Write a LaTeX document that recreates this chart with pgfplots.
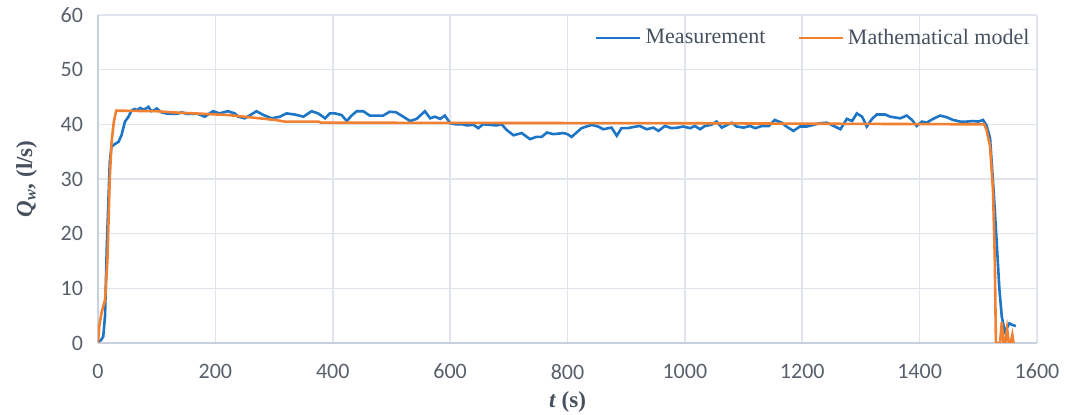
\documentclass[border=0pt]{standalone}
\usepackage{fontspec}
\setmainfont{Liberation Serif}
\newfontfamily\calibri{Carlito}
\usepackage{pgfplots}
\pgfplotsset{compat=1.18}

\definecolor{meas}{RGB}{28,117,198}
\definecolor{model}{RGB}{240,128,50}
\definecolor{gridc}{RGB}{224,228,236}
\definecolor{axisc}{RGB}{200,208,222}
\definecolor{tickc}{RGB}{89,96,108}
\definecolor{legc}{RGB}{70,80,95}

\begin{document}
\begin{tikzpicture}
\begin{axis}[
  scale only axis,
  width=469.5pt, height=164pt,
  xmin=0, xmax=1600, ymin=0, ymax=60,
  xtick={0,200,...,1600}, ytick={0,10,...,60},
  axis x line=bottom, axis y line=left,
  axis line style={draw=axisc, line width=0.9pt, -},
  major tick length=0pt,
  grid=major,
  major grid style={draw=gridc, line width=0.8pt},
  /pgf/number format/assume math mode=true,
  /pgf/number format/1000 sep={},
  tick label style={font=\calibri\fontsize{11}{13}\selectfont, text=tickc},
  xticklabel style={yshift=-7pt},
  yticklabel style={xshift=-4pt},
  xlabel={\textbf{\textit{t} (s)}},
  ylabel={\textbf{\textit{Q}\textsubscript{\textit{w}}, (l/s)}},
  label style={font=\fontsize{11.5}{13}\selectfont, text=legc},
  xlabel style={yshift=0.5pt},
  ylabel style={yshift=5pt},
  legend style={at={(rel axis cs:1.003,0.93)}, anchor=east, draw=none, fill=none,
    font=\fontsize{11}{13}\selectfont, text=legc, legend columns=2,
    /tikz/every even column/.append style={column sep=14pt}},
  legend image code/.code={\draw[#1] (0pt,0pt) -- (22pt,0pt);},
]
\coordinate (sw) at (rel axis cs:0,0);
\coordinate (ne) at (rel axis cs:1,1);

\addplot[meas, line width=1.3pt] coordinates {
(0,0.3) (5,0.5) (9,1.2) (12,5) (15,17.6) (20,33) (23,35.9) (29,36.4) (35,36.8) (40,38)
(46,40.5) (52,41.4) (57,42.5) (62,42.8) (66,42.6) (72,43.0) (77,42.7) (82,42.9) (86,43.2)
(91,42.4) (96,42.6) (100,42.9) (108,42.2) (120,41.9) (134,41.9) (143,42.2) (151,41.9)
(170,41.9) (182,41.4) (196,42.4) (207,42.0) (221,42.4) (233,42.0) (239,41.4) (250,41.1)
(258,41.6) (270,42.4) (282,41.7) (296,41.1) (310,41.4) (321,42.0) (335,41.8) (350,41.4)
(364,42.4) (375,42.0) (387,41.1) (395,42.0) (404,42.0) (415,41.7) (424,40.6) (432,41.6)
(441,42.4) (452,42.4) (463,41.6) (486,41.6) (497,42.3) (508,42.2) (517,41.6) (532,40.6)
(543,41.0) (557,42.4) (566,41.1) (574,41.4) (583,41.0) (591,41.6) (600,40.2) (610,40.0)
(622,40.0) (628,39.8) (640,39.9) (648,39.3) (656,40.0) (668,39.9) (679,39.8) (688,40.0)
(696,39.0) (708,38.0) (722,38.4) (736,37.3) (747,37.7) (756,37.7) (765,38.5) (776,38.2)
(793,38.4) (800,38.2) (807,37.7) (824,39.3) (841,39.9) (852,39.6) (861,39.1) (875,39.4)
(884,37.9) (892,39.3) (903,39.3) (912,39.5) (923,39.7) (935,39.1) (946,39.4) (955,38.8)
(966,39.7) (977,39.3) (988,39.4) (997,39.6) (1009,39.3) (1017,39.7) (1026,39.1) (1034,39.7)
(1045,39.9) (1054,40.5) (1063,39.4) (1074,40.0) (1080,40.3) (1088,39.6) (1100,39.4)
(1111,39.7) (1120,39.3) (1131,39.7) (1143,39.7) (1153,40.8) (1165,40.3) (1173,39.6)
(1185,38.8) (1196,39.6) (1208,39.6) (1219,39.9) (1230,40.2) (1242,40.3) (1250,39.9)
(1265,39.1) (1276,41.0) (1285,40.6) (1293,42.0) (1302,41.4) (1310,39.6) (1319,41.0)
(1327,41.8) (1341,41.8) (1350,41.4) (1367,41.1) (1378,41.6) (1387,40.8) (1395,39.7)
(1404,40.5) (1412,40.3) (1423,41.0) (1435,41.6) (1446,41.3) (1457,40.8) (1469,40.5)
(1480,40.5) (1491,40.6) (1500,40.5) (1508,40.8) (1514,39.8) (1520,37.5) (1526,28)
(1531,19) (1536,9.7) (1540,4.8) (1545,2.1) (1549,2.8) (1553,3.6) (1558,3.3) (1564,3.1)
};
\addlegendentry{Measurement}

\addplot[model, line width=1.3pt] coordinates {
(0,0) (2,3) (6,5.5) (12,7.9) (16,15) (20,30) (23,36.6) (27,40.5) (31,42.5) (100,42.4)
(125,42.2) (222,41.7) (302,40.8) (318,40.5) (376,40.5) (380,40.3) (1000,40.2) (1510,40.0)
(1514,39.0) (1520,36) (1525,28) (1528,15.8) (1530,0) (1537,0) (1540,3.8) (1543,0)
(1546,0) (1549,2.6) (1552,0) (1555,0) (1558,1.5) (1560,0)
};
\addlegendentry{Mathematical model}
\end{axis}
\pgfresetboundingbox
\path ([shift={(-49pt,-36pt)}]sw) rectangle ([shift={(14.5pt,7.5pt)}]ne);
\end{tikzpicture}
\end{document}
